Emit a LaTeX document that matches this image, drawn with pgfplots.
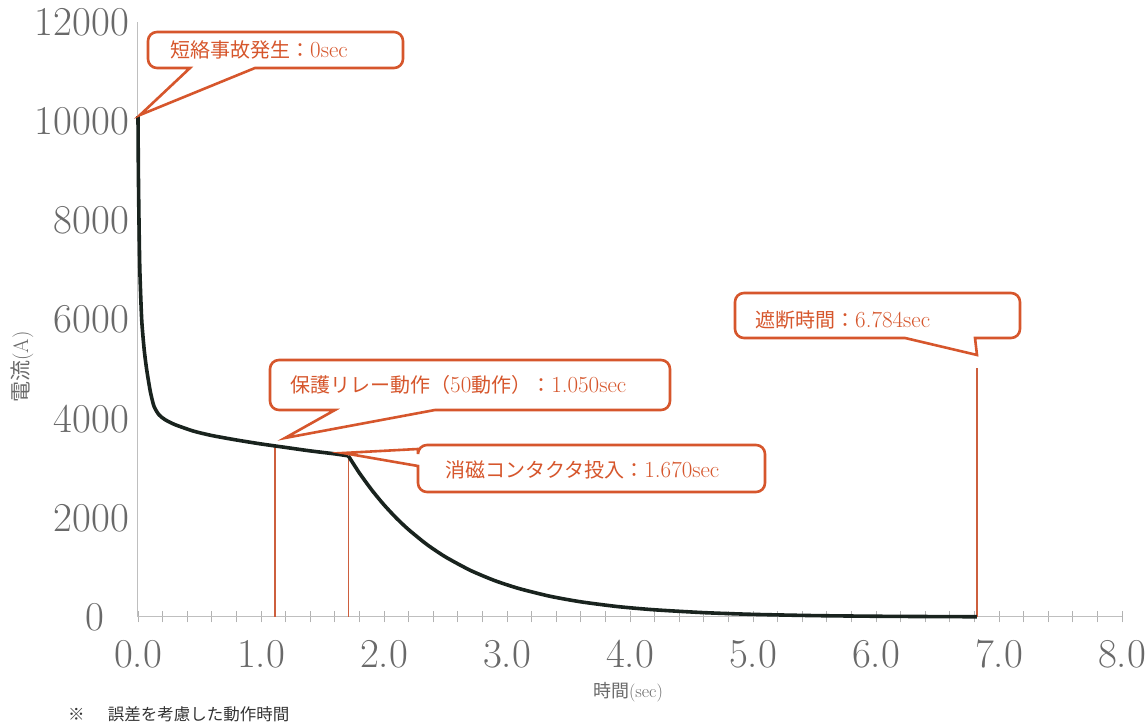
\documentclass[border=0pt]{standalone}
\usepackage{pgfplots}
\pgfplotsset{compat=1.18}
\usepackage{fontspec}
\newfontfamily\jp{Noto Sans CJK JP}
\definecolor{callout}{RGB}{214,86,44}
\definecolor{vline}{RGB}{205,95,62}
\definecolor{curve}{RGB}{25,35,30}
\definecolor{tickgray}{RGB}{105,105,105}
\newcommand\lat[1]{{\fontsize{23}{23}\selectfont #1}}
\begin{document}
\begin{tikzpicture}
\path[use as bounding box] (-138pt,-110pt) rectangle (1010pt,617pt);
\begin{axis}[
  at={(0pt,0pt)}, anchor=south west,
  width=984pt, height=595pt, scale only axis,
  xmin=0, xmax=8, ymin=0, ymax=12000,
  axis x line*=bottom, axis y line*=left,
  axis line style={draw=gray!50, line width=1pt},
  xtick={0,1,...,8}, minor x tick num=4,
  xticklabel style={yshift=-14pt, /pgf/number format/fixed, /pgf/number format/fixed zerofill, /pgf/number format/precision=1, /pgf/number format/assume math mode=true},
  ytick={0,2000,...,12000},
  yticklabels={0\kern25pt,2000,4000,6000,8000,10000,12000},
  scaled y ticks=false,
  tick label style={font=\fontsize{41}{41}\selectfont, text=tickgray},
  tick align=center, major tick length=11pt, minor tick length=11pt,
  xtick style={draw=gray!60, line width=0.8pt},
  ytick style={draw=none},
  clip=false,
]
% vertical markers
\addplot[vline, line width=1.6pt] coordinates {(1.115,0) (1.115,3450)};
\addplot[vline, line width=1.6pt] coordinates {(1.71,0) (1.71,3250)};
\addplot[vline, line width=1.6pt] coordinates {(6.82,0) (6.82,5030)};
% current curve, before demagnetising contactor
\addplot[curve, line width=3.6pt, smooth, tension=0.4] coordinates {
 (0,10100) (0.003,9000) (0.008,8000) (0.015,7000) (0.03,6000) (0.05,5400)
 (0.07,5000) (0.10,4550) (0.13,4250) (0.17,4080) (0.22,3980) (0.30,3880)
 (0.45,3750) (0.60,3660) (0.80,3570) (1.00,3490) (1.20,3420) (1.40,3350)
 (1.60,3290) (1.71,3250)};
% decay after contactor
\addplot[curve, line width=3.6pt, smooth, tension=0.4] coordinates {
 (1.71,3250) (1.80,2904) (1.90,2563) (2.00,2262) (2.10,1996) (2.20,1762)
 (2.35,1460) (2.50,1211) (2.70,943) (2.90,734) (3.10,572) (3.35,418)
 (3.60,306) (3.90,210) (4.20,145) (4.60,88) (5.00,53) (5.50,28)
 (6.00,15) (6.50,8) (6.82,5)};
\end{axis}
% callouts (pt coordinates, origin = axis origin)
\tikzset{co/.style={draw=callout, line width=2.6pt, fill=white, line join=miter}}
% 1
\draw[co] (2pt,502pt) -- (52pt,549pt) [rounded corners=9pt] -- (10pt,549pt) -- (10pt,585pt) -- (265pt,585pt) -- (265pt,549pt) [sharp corners] -- (117pt,549pt) -- cycle;
\node[anchor=west, text=callout, inner sep=0pt] at (32pt,567pt) {\fontsize{20}{20}\selectfont{\jp 短絡事故発生：}\lat{0sec}};
% 2
\draw[co] (147pt,179pt) -- (197pt,207pt) [rounded corners=9pt] -- (132pt,207pt) -- (132pt,257pt) -- (532pt,257pt) -- (532pt,207pt) [sharp corners] -- (297pt,207pt) -- cycle;
\node[anchor=west, text=callout, inner sep=0pt] at (152pt,232pt) {\fontsize{20}{20}\selectfont{\jp 保護リレー動作（}\lat{50}{\jp 動作）：}\lat{1.050sec}};
% 3
\draw[co] (205pt,164pt) -- (280pt,151pt) [rounded corners=9pt] -- (280pt,125pt) -- (627pt,125pt) -- (627pt,172pt) -- (280pt,172pt) [sharp corners] -- (280pt,168pt) -- cycle;
\node[anchor=west, text=callout, inner sep=0pt] at (307pt,147pt) {\fontsize{20}{20}\selectfont{\jp 消磁コンタクタ投入：}\lat{1.670sec}};
% 4
\draw[co] (839pt,262pt) -- (837pt,279pt) [rounded corners=9pt] -- (882pt,279pt) -- (882pt,324pt) -- (597pt,324pt) -- (597pt,279pt) [sharp corners] -- (767pt,279pt) -- cycle;
\node[anchor=west, text=callout, inner sep=0pt] at (617pt,297pt) {\fontsize{20}{20}\selectfont{\jp 遮断時間：}\lat{6.784sec}};
% axis labels
\node[text=tickgray] at (490pt,-75pt) {\fontsize{18}{18}\selectfont{\jp 時間}(sec)};
\node[text=tickgray, rotate=90] at (-116pt,250pt) {\fontsize{21}{21}\selectfont{\jp 電流}(A)};
% footnote
\node[anchor=west, text=black!80, inner sep=0pt] at (-70pt,-97pt) {\fontsize{16.5}{16.5}\selectfont\jp ※\hspace{1.4em}誤差を考慮した動作時間};
\end{tikzpicture}
\end{document}
